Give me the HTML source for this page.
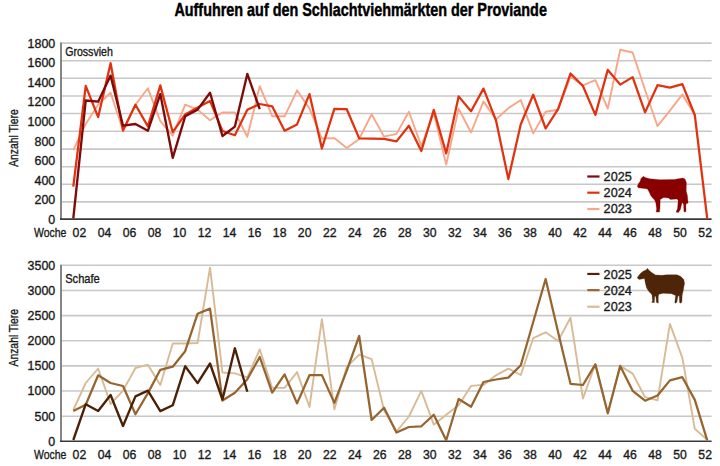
<!DOCTYPE html>
<html><head><meta charset="utf-8"><style>
html,body{margin:0;padding:0;background:#fff;width:720px;height:466px;overflow:hidden}
svg{display:block}
text{font-family:"Liberation Sans", sans-serif}
</style></head><body>
<svg width="720" height="466" viewBox="0 0 720 466">
<text x="174.40" y="16.10" font-size="17.8" text-anchor="start" font-weight="bold" fill="#000" stroke="#000" stroke-width="0.45" textLength="372.5" lengthAdjust="spacingAndGlyphs" >Auffuhren auf den Schlachtviehmärkten der Proviande</text>
<line x1="61" y1="43.10" x2="711.6" y2="43.10" stroke="#c8c8c8" stroke-width="1.6"/>
<line x1="61" y1="60.80" x2="711.6" y2="60.80" stroke="#c8c8c8" stroke-width="1.6"/>
<line x1="61" y1="78.30" x2="711.6" y2="78.30" stroke="#c8c8c8" stroke-width="1.6"/>
<line x1="61" y1="96.00" x2="711.6" y2="96.00" stroke="#c8c8c8" stroke-width="1.6"/>
<line x1="61" y1="113.50" x2="711.6" y2="113.50" stroke="#c8c8c8" stroke-width="1.6"/>
<line x1="61" y1="131.30" x2="711.6" y2="131.30" stroke="#c8c8c8" stroke-width="1.6"/>
<line x1="61" y1="149.10" x2="711.6" y2="149.10" stroke="#c8c8c8" stroke-width="1.6"/>
<line x1="61" y1="166.70" x2="711.6" y2="166.70" stroke="#c8c8c8" stroke-width="1.6"/>
<line x1="61" y1="184.20" x2="711.6" y2="184.20" stroke="#c8c8c8" stroke-width="1.6"/>
<line x1="61" y1="201.90" x2="711.6" y2="201.90" stroke="#c8c8c8" stroke-width="1.6"/>
<line x1="61" y1="42.50" x2="61" y2="219.10" stroke="#858585" stroke-width="2"/>
<line x1="60" y1="219.10" x2="711.6" y2="219.10" stroke="#3a3a3a" stroke-width="1.6"/>
<text x="55.20" y="47.80" font-size="12.5" text-anchor="end" font-weight="normal" fill="#1a1a1a" stroke="#1a1a1a" stroke-width="0.35" textLength="27.6" lengthAdjust="spacingAndGlyphs" >1800</text>
<text x="55.20" y="67.34" font-size="12.5" text-anchor="end" font-weight="normal" fill="#1a1a1a" stroke="#1a1a1a" stroke-width="0.35" textLength="27.6" lengthAdjust="spacingAndGlyphs" >1600</text>
<text x="55.20" y="86.88" font-size="12.5" text-anchor="end" font-weight="normal" fill="#1a1a1a" stroke="#1a1a1a" stroke-width="0.35" textLength="27.6" lengthAdjust="spacingAndGlyphs" >1400</text>
<text x="55.20" y="106.42" font-size="12.5" text-anchor="end" font-weight="normal" fill="#1a1a1a" stroke="#1a1a1a" stroke-width="0.35" textLength="27.6" lengthAdjust="spacingAndGlyphs" >1200</text>
<text x="55.20" y="125.96" font-size="12.5" text-anchor="end" font-weight="normal" fill="#1a1a1a" stroke="#1a1a1a" stroke-width="0.35" textLength="27.6" lengthAdjust="spacingAndGlyphs" >1000</text>
<text x="55.20" y="145.50" font-size="12.5" text-anchor="end" font-weight="normal" fill="#1a1a1a" stroke="#1a1a1a" stroke-width="0.35" textLength="20.700000000000003" lengthAdjust="spacingAndGlyphs" >800</text>
<text x="55.20" y="165.04" font-size="12.5" text-anchor="end" font-weight="normal" fill="#1a1a1a" stroke="#1a1a1a" stroke-width="0.35" textLength="20.700000000000003" lengthAdjust="spacingAndGlyphs" >600</text>
<text x="55.20" y="184.58" font-size="12.5" text-anchor="end" font-weight="normal" fill="#1a1a1a" stroke="#1a1a1a" stroke-width="0.35" textLength="20.700000000000003" lengthAdjust="spacingAndGlyphs" >400</text>
<text x="55.20" y="204.12" font-size="12.5" text-anchor="end" font-weight="normal" fill="#1a1a1a" stroke="#1a1a1a" stroke-width="0.35" textLength="20.700000000000003" lengthAdjust="spacingAndGlyphs" >200</text>
<text x="55.20" y="223.66" font-size="12.5" text-anchor="end" font-weight="normal" fill="#1a1a1a" stroke="#1a1a1a" stroke-width="0.35" textLength="6.9" lengthAdjust="spacingAndGlyphs" >0</text>
<text x="65.20" y="55.80" font-size="12.6" text-anchor="start" font-weight="normal" fill="#1a1a1a" stroke="#1a1a1a" stroke-width="0.35" textLength="47.6" lengthAdjust="spacingAndGlyphs" >Grossvieh</text>
<text x="0" y="0" font-size="12.5" text-anchor="middle" fill="#1a1a1a" stroke="#1a1a1a" stroke-width="0.35" transform="translate(17.6 138.1) rotate(-90)" textLength="57.5" lengthAdjust="spacingAndGlyphs">Anzahl Tiere</text>
<text x="34.00" y="236.80" font-size="12.5" text-anchor="start" font-weight="normal" fill="#1a1a1a" stroke="#1a1a1a" stroke-width="0.35" textLength="32.4" lengthAdjust="spacingAndGlyphs" >Woche</text>
<text x="79.40" y="236.80" font-size="12.5" text-anchor="middle" font-weight="normal" fill="#1a1a1a" stroke="#1a1a1a" stroke-width="0.35" textLength="13.6" lengthAdjust="spacingAndGlyphs" >02</text>
<text x="104.43" y="236.80" font-size="12.5" text-anchor="middle" font-weight="normal" fill="#1a1a1a" stroke="#1a1a1a" stroke-width="0.35" textLength="13.6" lengthAdjust="spacingAndGlyphs" >04</text>
<text x="129.46" y="236.80" font-size="12.5" text-anchor="middle" font-weight="normal" fill="#1a1a1a" stroke="#1a1a1a" stroke-width="0.35" textLength="13.6" lengthAdjust="spacingAndGlyphs" >06</text>
<text x="154.49" y="236.80" font-size="12.5" text-anchor="middle" font-weight="normal" fill="#1a1a1a" stroke="#1a1a1a" stroke-width="0.35" textLength="13.6" lengthAdjust="spacingAndGlyphs" >08</text>
<text x="179.52" y="236.80" font-size="12.5" text-anchor="middle" font-weight="normal" fill="#1a1a1a" stroke="#1a1a1a" stroke-width="0.35" textLength="13.6" lengthAdjust="spacingAndGlyphs" >10</text>
<text x="204.55" y="236.80" font-size="12.5" text-anchor="middle" font-weight="normal" fill="#1a1a1a" stroke="#1a1a1a" stroke-width="0.35" textLength="13.6" lengthAdjust="spacingAndGlyphs" >12</text>
<text x="229.58" y="236.80" font-size="12.5" text-anchor="middle" font-weight="normal" fill="#1a1a1a" stroke="#1a1a1a" stroke-width="0.35" textLength="13.6" lengthAdjust="spacingAndGlyphs" >14</text>
<text x="254.61" y="236.80" font-size="12.5" text-anchor="middle" font-weight="normal" fill="#1a1a1a" stroke="#1a1a1a" stroke-width="0.35" textLength="13.6" lengthAdjust="spacingAndGlyphs" >16</text>
<text x="279.64" y="236.80" font-size="12.5" text-anchor="middle" font-weight="normal" fill="#1a1a1a" stroke="#1a1a1a" stroke-width="0.35" textLength="13.6" lengthAdjust="spacingAndGlyphs" >18</text>
<text x="304.67" y="236.80" font-size="12.5" text-anchor="middle" font-weight="normal" fill="#1a1a1a" stroke="#1a1a1a" stroke-width="0.35" textLength="13.6" lengthAdjust="spacingAndGlyphs" >20</text>
<text x="329.70" y="236.80" font-size="12.5" text-anchor="middle" font-weight="normal" fill="#1a1a1a" stroke="#1a1a1a" stroke-width="0.35" textLength="13.6" lengthAdjust="spacingAndGlyphs" >22</text>
<text x="354.73" y="236.80" font-size="12.5" text-anchor="middle" font-weight="normal" fill="#1a1a1a" stroke="#1a1a1a" stroke-width="0.35" textLength="13.6" lengthAdjust="spacingAndGlyphs" >24</text>
<text x="379.76" y="236.80" font-size="12.5" text-anchor="middle" font-weight="normal" fill="#1a1a1a" stroke="#1a1a1a" stroke-width="0.35" textLength="13.6" lengthAdjust="spacingAndGlyphs" >26</text>
<text x="404.79" y="236.80" font-size="12.5" text-anchor="middle" font-weight="normal" fill="#1a1a1a" stroke="#1a1a1a" stroke-width="0.35" textLength="13.6" lengthAdjust="spacingAndGlyphs" >28</text>
<text x="429.82" y="236.80" font-size="12.5" text-anchor="middle" font-weight="normal" fill="#1a1a1a" stroke="#1a1a1a" stroke-width="0.35" textLength="13.6" lengthAdjust="spacingAndGlyphs" >30</text>
<text x="454.85" y="236.80" font-size="12.5" text-anchor="middle" font-weight="normal" fill="#1a1a1a" stroke="#1a1a1a" stroke-width="0.35" textLength="13.6" lengthAdjust="spacingAndGlyphs" >32</text>
<text x="479.88" y="236.80" font-size="12.5" text-anchor="middle" font-weight="normal" fill="#1a1a1a" stroke="#1a1a1a" stroke-width="0.35" textLength="13.6" lengthAdjust="spacingAndGlyphs" >34</text>
<text x="504.91" y="236.80" font-size="12.5" text-anchor="middle" font-weight="normal" fill="#1a1a1a" stroke="#1a1a1a" stroke-width="0.35" textLength="13.6" lengthAdjust="spacingAndGlyphs" >36</text>
<text x="529.94" y="236.80" font-size="12.5" text-anchor="middle" font-weight="normal" fill="#1a1a1a" stroke="#1a1a1a" stroke-width="0.35" textLength="13.6" lengthAdjust="spacingAndGlyphs" >38</text>
<text x="554.97" y="236.80" font-size="12.5" text-anchor="middle" font-weight="normal" fill="#1a1a1a" stroke="#1a1a1a" stroke-width="0.35" textLength="13.6" lengthAdjust="spacingAndGlyphs" >40</text>
<text x="580.00" y="236.80" font-size="12.5" text-anchor="middle" font-weight="normal" fill="#1a1a1a" stroke="#1a1a1a" stroke-width="0.35" textLength="13.6" lengthAdjust="spacingAndGlyphs" >42</text>
<text x="605.03" y="236.80" font-size="12.5" text-anchor="middle" font-weight="normal" fill="#1a1a1a" stroke="#1a1a1a" stroke-width="0.35" textLength="13.6" lengthAdjust="spacingAndGlyphs" >44</text>
<text x="630.06" y="236.80" font-size="12.5" text-anchor="middle" font-weight="normal" fill="#1a1a1a" stroke="#1a1a1a" stroke-width="0.35" textLength="13.6" lengthAdjust="spacingAndGlyphs" >46</text>
<text x="655.09" y="236.80" font-size="12.5" text-anchor="middle" font-weight="normal" fill="#1a1a1a" stroke="#1a1a1a" stroke-width="0.35" textLength="13.6" lengthAdjust="spacingAndGlyphs" >48</text>
<text x="680.12" y="236.80" font-size="12.5" text-anchor="middle" font-weight="normal" fill="#1a1a1a" stroke="#1a1a1a" stroke-width="0.35" textLength="13.6" lengthAdjust="spacingAndGlyphs" >50</text>
<text x="705.15" y="236.80" font-size="12.5" text-anchor="middle" font-weight="normal" fill="#1a1a1a" stroke="#1a1a1a" stroke-width="0.35" textLength="13.6" lengthAdjust="spacingAndGlyphs" >52</text>
<line x1="61" y1="265.30" x2="711.6" y2="265.30" stroke="#c8c8c8" stroke-width="1.6"/>
<line x1="61" y1="290.45" x2="711.6" y2="290.45" stroke="#c8c8c8" stroke-width="1.6"/>
<line x1="61" y1="315.60" x2="711.6" y2="315.60" stroke="#c8c8c8" stroke-width="1.6"/>
<line x1="61" y1="340.75" x2="711.6" y2="340.75" stroke="#c8c8c8" stroke-width="1.6"/>
<line x1="61" y1="365.90" x2="711.6" y2="365.90" stroke="#c8c8c8" stroke-width="1.6"/>
<line x1="61" y1="391.05" x2="711.6" y2="391.05" stroke="#c8c8c8" stroke-width="1.6"/>
<line x1="61" y1="416.20" x2="711.6" y2="416.20" stroke="#c8c8c8" stroke-width="1.6"/>
<line x1="61" y1="264.70" x2="61" y2="441.30" stroke="#858585" stroke-width="2"/>
<line x1="60" y1="441.30" x2="711.6" y2="441.30" stroke="#3a3a3a" stroke-width="1.6"/>
<text x="55.20" y="269.55" font-size="12.5" text-anchor="end" font-weight="normal" fill="#1a1a1a" stroke="#1a1a1a" stroke-width="0.35" textLength="27.6" lengthAdjust="spacingAndGlyphs" >3500</text>
<text x="55.20" y="294.72" font-size="12.5" text-anchor="end" font-weight="normal" fill="#1a1a1a" stroke="#1a1a1a" stroke-width="0.35" textLength="27.6" lengthAdjust="spacingAndGlyphs" >3000</text>
<text x="55.20" y="319.89" font-size="12.5" text-anchor="end" font-weight="normal" fill="#1a1a1a" stroke="#1a1a1a" stroke-width="0.35" textLength="27.6" lengthAdjust="spacingAndGlyphs" >2500</text>
<text x="55.20" y="345.06" font-size="12.5" text-anchor="end" font-weight="normal" fill="#1a1a1a" stroke="#1a1a1a" stroke-width="0.35" textLength="27.6" lengthAdjust="spacingAndGlyphs" >2000</text>
<text x="55.20" y="370.23" font-size="12.5" text-anchor="end" font-weight="normal" fill="#1a1a1a" stroke="#1a1a1a" stroke-width="0.35" textLength="27.6" lengthAdjust="spacingAndGlyphs" >1500</text>
<text x="55.20" y="395.40" font-size="12.5" text-anchor="end" font-weight="normal" fill="#1a1a1a" stroke="#1a1a1a" stroke-width="0.35" textLength="27.6" lengthAdjust="spacingAndGlyphs" >1000</text>
<text x="55.20" y="420.57" font-size="12.5" text-anchor="end" font-weight="normal" fill="#1a1a1a" stroke="#1a1a1a" stroke-width="0.35" textLength="20.700000000000003" lengthAdjust="spacingAndGlyphs" >500</text>
<text x="55.20" y="445.74" font-size="12.5" text-anchor="end" font-weight="normal" fill="#1a1a1a" stroke="#1a1a1a" stroke-width="0.35" textLength="6.9" lengthAdjust="spacingAndGlyphs" >0</text>
<text x="65.20" y="282.70" font-size="12.6" text-anchor="start" font-weight="normal" fill="#1a1a1a" stroke="#1a1a1a" stroke-width="0.35" textLength="34.6" lengthAdjust="spacingAndGlyphs" >Schafe</text>
<text x="0" y="0" font-size="12.5" text-anchor="middle" fill="#1a1a1a" stroke="#1a1a1a" stroke-width="0.35" transform="translate(17.6 337.7) rotate(-90)" textLength="57.5" lengthAdjust="spacingAndGlyphs">Anzahl Tiere</text>
<text x="34.00" y="458.60" font-size="12.5" text-anchor="start" font-weight="normal" fill="#1a1a1a" stroke="#1a1a1a" stroke-width="0.35" textLength="32.4" lengthAdjust="spacingAndGlyphs" >Woche</text>
<text x="79.40" y="458.60" font-size="12.5" text-anchor="middle" font-weight="normal" fill="#1a1a1a" stroke="#1a1a1a" stroke-width="0.35" textLength="13.6" lengthAdjust="spacingAndGlyphs" >02</text>
<text x="104.43" y="458.60" font-size="12.5" text-anchor="middle" font-weight="normal" fill="#1a1a1a" stroke="#1a1a1a" stroke-width="0.35" textLength="13.6" lengthAdjust="spacingAndGlyphs" >04</text>
<text x="129.46" y="458.60" font-size="12.5" text-anchor="middle" font-weight="normal" fill="#1a1a1a" stroke="#1a1a1a" stroke-width="0.35" textLength="13.6" lengthAdjust="spacingAndGlyphs" >06</text>
<text x="154.49" y="458.60" font-size="12.5" text-anchor="middle" font-weight="normal" fill="#1a1a1a" stroke="#1a1a1a" stroke-width="0.35" textLength="13.6" lengthAdjust="spacingAndGlyphs" >08</text>
<text x="179.52" y="458.60" font-size="12.5" text-anchor="middle" font-weight="normal" fill="#1a1a1a" stroke="#1a1a1a" stroke-width="0.35" textLength="13.6" lengthAdjust="spacingAndGlyphs" >10</text>
<text x="204.55" y="458.60" font-size="12.5" text-anchor="middle" font-weight="normal" fill="#1a1a1a" stroke="#1a1a1a" stroke-width="0.35" textLength="13.6" lengthAdjust="spacingAndGlyphs" >12</text>
<text x="229.58" y="458.60" font-size="12.5" text-anchor="middle" font-weight="normal" fill="#1a1a1a" stroke="#1a1a1a" stroke-width="0.35" textLength="13.6" lengthAdjust="spacingAndGlyphs" >14</text>
<text x="254.61" y="458.60" font-size="12.5" text-anchor="middle" font-weight="normal" fill="#1a1a1a" stroke="#1a1a1a" stroke-width="0.35" textLength="13.6" lengthAdjust="spacingAndGlyphs" >16</text>
<text x="279.64" y="458.60" font-size="12.5" text-anchor="middle" font-weight="normal" fill="#1a1a1a" stroke="#1a1a1a" stroke-width="0.35" textLength="13.6" lengthAdjust="spacingAndGlyphs" >18</text>
<text x="304.67" y="458.60" font-size="12.5" text-anchor="middle" font-weight="normal" fill="#1a1a1a" stroke="#1a1a1a" stroke-width="0.35" textLength="13.6" lengthAdjust="spacingAndGlyphs" >20</text>
<text x="329.70" y="458.60" font-size="12.5" text-anchor="middle" font-weight="normal" fill="#1a1a1a" stroke="#1a1a1a" stroke-width="0.35" textLength="13.6" lengthAdjust="spacingAndGlyphs" >22</text>
<text x="354.73" y="458.60" font-size="12.5" text-anchor="middle" font-weight="normal" fill="#1a1a1a" stroke="#1a1a1a" stroke-width="0.35" textLength="13.6" lengthAdjust="spacingAndGlyphs" >24</text>
<text x="379.76" y="458.60" font-size="12.5" text-anchor="middle" font-weight="normal" fill="#1a1a1a" stroke="#1a1a1a" stroke-width="0.35" textLength="13.6" lengthAdjust="spacingAndGlyphs" >26</text>
<text x="404.79" y="458.60" font-size="12.5" text-anchor="middle" font-weight="normal" fill="#1a1a1a" stroke="#1a1a1a" stroke-width="0.35" textLength="13.6" lengthAdjust="spacingAndGlyphs" >28</text>
<text x="429.82" y="458.60" font-size="12.5" text-anchor="middle" font-weight="normal" fill="#1a1a1a" stroke="#1a1a1a" stroke-width="0.35" textLength="13.6" lengthAdjust="spacingAndGlyphs" >30</text>
<text x="454.85" y="458.60" font-size="12.5" text-anchor="middle" font-weight="normal" fill="#1a1a1a" stroke="#1a1a1a" stroke-width="0.35" textLength="13.6" lengthAdjust="spacingAndGlyphs" >32</text>
<text x="479.88" y="458.60" font-size="12.5" text-anchor="middle" font-weight="normal" fill="#1a1a1a" stroke="#1a1a1a" stroke-width="0.35" textLength="13.6" lengthAdjust="spacingAndGlyphs" >34</text>
<text x="504.91" y="458.60" font-size="12.5" text-anchor="middle" font-weight="normal" fill="#1a1a1a" stroke="#1a1a1a" stroke-width="0.35" textLength="13.6" lengthAdjust="spacingAndGlyphs" >36</text>
<text x="529.94" y="458.60" font-size="12.5" text-anchor="middle" font-weight="normal" fill="#1a1a1a" stroke="#1a1a1a" stroke-width="0.35" textLength="13.6" lengthAdjust="spacingAndGlyphs" >38</text>
<text x="554.97" y="458.60" font-size="12.5" text-anchor="middle" font-weight="normal" fill="#1a1a1a" stroke="#1a1a1a" stroke-width="0.35" textLength="13.6" lengthAdjust="spacingAndGlyphs" >40</text>
<text x="580.00" y="458.60" font-size="12.5" text-anchor="middle" font-weight="normal" fill="#1a1a1a" stroke="#1a1a1a" stroke-width="0.35" textLength="13.6" lengthAdjust="spacingAndGlyphs" >42</text>
<text x="605.03" y="458.60" font-size="12.5" text-anchor="middle" font-weight="normal" fill="#1a1a1a" stroke="#1a1a1a" stroke-width="0.35" textLength="13.6" lengthAdjust="spacingAndGlyphs" >44</text>
<text x="630.06" y="458.60" font-size="12.5" text-anchor="middle" font-weight="normal" fill="#1a1a1a" stroke="#1a1a1a" stroke-width="0.35" textLength="13.6" lengthAdjust="spacingAndGlyphs" >46</text>
<text x="655.09" y="458.60" font-size="12.5" text-anchor="middle" font-weight="normal" fill="#1a1a1a" stroke="#1a1a1a" stroke-width="0.35" textLength="13.6" lengthAdjust="spacingAndGlyphs" >48</text>
<text x="680.12" y="458.60" font-size="12.5" text-anchor="middle" font-weight="normal" fill="#1a1a1a" stroke="#1a1a1a" stroke-width="0.35" textLength="13.6" lengthAdjust="spacingAndGlyphs" >50</text>
<text x="705.15" y="458.60" font-size="12.5" text-anchor="middle" font-weight="normal" fill="#1a1a1a" stroke="#1a1a1a" stroke-width="0.35" textLength="13.6" lengthAdjust="spacingAndGlyphs" >52</text>
<polyline points="73.30,150.20 85.73,124.00 98.16,104.50 110.59,92.70 123.02,130.50 135.45,104.70 147.88,88.30 160.31,121.20 172.74,135.60 185.17,104.70 197.60,109.60 210.03,120.20 222.46,112.50 234.89,112.50 247.32,136.80 259.75,86.10 272.18,116.20 284.61,116.30 297.04,90.30 309.47,108.60 321.90,138.50 334.33,138.10 346.76,147.90 359.19,138.90 371.62,114.20 384.05,136.60 396.48,133.90 408.91,111.80 421.34,146.00 433.77,112.80 446.20,164.60 458.63,108.60 471.06,132.50 483.49,101.40 495.92,119.40 508.35,108.20 520.78,100.00 533.21,133.40 545.64,111.70 558.07,109.80 570.50,76.70 582.93,85.40 595.36,80.20 607.79,108.50 620.22,49.70 632.65,52.50 645.08,90.00 657.51,126.20 669.94,110.60 682.37,94.40 694.80,115.00" fill="none" stroke="#f8a68a" stroke-width="1.9" stroke-linejoin="round"/>
<polyline points="73.30,186.70 85.73,85.90 98.16,117.10 110.59,63.20 123.02,130.50 135.45,104.70 147.88,126.40 160.31,85.40 172.74,132.20 185.17,114.40 197.60,107.60 210.03,100.90 222.46,131.00 234.89,135.30 247.32,109.80 259.75,104.00 272.18,106.30 284.61,130.80 297.04,124.40 309.47,94.10 321.90,148.50 334.33,108.80 346.76,109.20 359.19,138.40 371.62,138.60 384.05,138.90 396.48,141.40 408.91,125.80 421.34,151.00 433.77,109.90 446.20,153.40 458.63,96.40 471.06,111.20 483.49,88.60 495.92,120.10 508.35,179.10 520.78,124.30 533.21,94.70 545.64,128.50 558.07,109.20 570.50,73.50 582.93,86.00 595.36,114.90 607.79,69.90 620.22,84.60 632.65,77.10 645.08,112.40 657.51,85.20 669.94,87.60 682.37,84.10 694.80,115.00 707.23,218.70" fill="none" stroke="#e0320f" stroke-width="2.25" stroke-linejoin="round"/>
<polyline points="73.30,218.30 85.73,100.50 98.16,101.70 110.59,75.60 123.02,125.70 135.45,124.00 147.88,130.80 160.31,94.10 172.74,157.80 185.17,116.30 197.60,109.60 210.03,92.80 222.46,136.00 234.89,126.60 247.32,73.90 259.75,109.20" fill="none" stroke="#7f0a0a" stroke-width="2.35" stroke-linejoin="round"/>
<polyline points="73.30,410.00 85.73,383.00 98.16,368.50 110.59,404.00 123.02,390.60 135.45,368.00 147.88,364.70 160.31,385.00 172.74,343.50 185.17,343.50 197.60,343.00 210.03,267.70 222.46,372.50 234.89,373.40 247.32,377.30 259.75,349.30 272.18,387.90 284.61,387.90 297.04,372.10 309.47,407.00 321.90,319.20 334.33,409.40 346.76,366.90 359.19,354.60 371.62,359.10 384.05,410.20 396.48,431.50 408.91,416.50 421.34,390.90 433.77,424.70 446.20,414.80 458.63,405.20 471.06,385.90 483.49,384.90 495.92,375.30 508.35,368.60 520.78,375.00 533.21,338.20 545.64,332.30 558.07,341.00 570.50,317.80 582.93,398.50 595.36,364.30 607.79,413.00 620.22,365.90 632.65,373.60 645.08,397.20 657.51,400.40 669.94,323.90 682.37,357.80 694.80,428.80 707.23,439.90" fill="none" stroke="#d8bb96" stroke-width="1.9" stroke-linejoin="round"/>
<polyline points="73.30,411.00 85.73,404.80 98.16,375.30 110.59,383.00 123.02,386.00 135.45,414.30 147.88,393.10 160.31,369.80 172.74,366.70 185.17,351.20 197.60,313.70 210.03,308.60 222.46,400.50 234.89,392.70 247.32,379.20 259.75,357.00 272.18,392.70 284.61,374.40 297.04,403.40 309.47,375.20 321.90,375.10 334.33,402.90 346.76,370.70 359.19,336.00 371.62,420.00 384.05,407.70 396.48,432.50 408.91,427.00 421.34,426.30 433.77,414.70 446.20,440.30 458.63,399.00 471.06,406.70 483.49,382.00 495.92,379.50 508.35,377.60 520.78,365.20 533.21,322.00 545.64,279.00 558.07,332.00 570.50,383.80 582.93,385.00 595.36,364.40 607.79,413.30 620.22,365.90 632.65,390.80 645.08,400.70 657.51,395.50 669.94,380.40 682.37,377.20 694.80,399.90 707.23,440.40" fill="none" stroke="#96642e" stroke-width="2.25" stroke-linejoin="round"/>
<polyline points="73.30,440.00 85.73,404.20 98.16,411.00 110.59,395.00 123.02,426.00 135.45,396.40 147.88,390.60 160.31,411.10 172.74,405.30 185.17,366.30 197.60,383.10 210.03,363.50 222.46,399.50 234.89,348.30 247.32,391.80" fill="none" stroke="#4a2006" stroke-width="2.35" stroke-linejoin="round"/>
<path d="M643.4,176.2 L645.2,177.6 L649.5,178.8 L660,179.7 L674.2,179.4 L682.6,178.1 L685,179.1 L686.4,182.4 L686.2,190.9 L687.4,195.6 L688.1,203.1 L686.9,203.6 L685.9,203.8 L686,211.6 L684,212.1 L683.6,204.5 L682.2,202.2 L680.3,209.7 L678.4,212.6 L676,212.1 L677.5,208.8 L678.2,200.5 L677,198.9 L670.4,199.4 L668.5,198 L663.8,197.5 L660.2,199.4 L660,207.8 L659.5,212.1 L656.2,212.1 L656.6,208.8 L655.7,202.2 L654.3,199.4 L653,198.5 L650.7,195.6 L648.9,191.6 L647.5,189 L644.3,188.4 L638.2,187.8 L637.3,186.3 L638.2,184.3 L640.5,180.5 L640.8,178.8 Z" fill="#880000" stroke="#880000" stroke-width="0.3"/>
<path d="M647.6,268.3 L648.7,269.9 L652,272.7 L655.6,275 L662,275.3 L667,274.8 L676.9,274.8 L680.5,276.2 L683.7,279.3 L684.6,283.4 L684.1,285.6 L683.2,291 L682.3,294.6 L682.1,296.4 L681.9,301.8 L681,303.2 L679.6,302.7 L679.2,295.5 L677.8,296.4 L676.9,302.3 L675.1,303.2 L674.8,302.6 L675.6,295.5 L671.5,293.7 L663.4,293.3 L658.9,294.2 L658.3,296.4 L658.3,303.2 L656.3,302.3 L656.1,298.2 L655.6,296 L654.7,296.4 L654.3,302.7 L651.6,302.3 L652.5,300.9 L652,295.1 L651.6,294.2 L648.9,291.5 L646.6,287.9 L645.3,282.9 L645,281.3 L644.6,278.6 L639.1,279.4 L637.3,278.1 L637.8,276.8 L640.2,273.7 L642.7,271.4 L645.8,270.1 L646.6,269.6 Z" fill="#4e2508" stroke="#4e2508" stroke-width="0.3"/>
<line x1="587.3" y1="176.5" x2="599.5" y2="176.5" stroke="#7f0a0a" stroke-width="2.2"/>
<text x="603.60" y="180.90" font-size="13" text-anchor="start" font-weight="normal" fill="#1a1a1a" stroke="#1a1a1a" stroke-width="0.35" textLength="28.2" lengthAdjust="spacingAndGlyphs" >2025</text>
<line x1="587.3" y1="192.7" x2="599.5" y2="192.7" stroke="#e0320f" stroke-width="2.2"/>
<text x="603.60" y="196.90" font-size="13" text-anchor="start" font-weight="normal" fill="#1a1a1a" stroke="#1a1a1a" stroke-width="0.35" textLength="28.2" lengthAdjust="spacingAndGlyphs" >2024</text>
<line x1="587.3" y1="209.0" x2="599.5" y2="209.0" stroke="#f8a68a" stroke-width="2.2"/>
<text x="603.60" y="213.20" font-size="13" text-anchor="start" font-weight="normal" fill="#1a1a1a" stroke="#1a1a1a" stroke-width="0.35" textLength="28.2" lengthAdjust="spacingAndGlyphs" >2023</text>
<line x1="587.3" y1="273.95" x2="599.5" y2="273.95" stroke="#4f2409" stroke-width="2.2"/>
<text x="603.60" y="278.50" font-size="13" text-anchor="start" font-weight="normal" fill="#1a1a1a" stroke="#1a1a1a" stroke-width="0.35" textLength="28.2" lengthAdjust="spacingAndGlyphs" >2025</text>
<line x1="587.3" y1="290.15" x2="599.5" y2="290.15" stroke="#9a6630" stroke-width="2.2"/>
<text x="603.60" y="294.70" font-size="13" text-anchor="start" font-weight="normal" fill="#1a1a1a" stroke="#1a1a1a" stroke-width="0.35" textLength="28.2" lengthAdjust="spacingAndGlyphs" >2024</text>
<line x1="587.3" y1="306.75" x2="599.5" y2="306.75" stroke="#d8bb96" stroke-width="2.2"/>
<text x="603.60" y="311.10" font-size="13" text-anchor="start" font-weight="normal" fill="#1a1a1a" stroke="#1a1a1a" stroke-width="0.35" textLength="28.2" lengthAdjust="spacingAndGlyphs" >2023</text>
</svg></body></html>
